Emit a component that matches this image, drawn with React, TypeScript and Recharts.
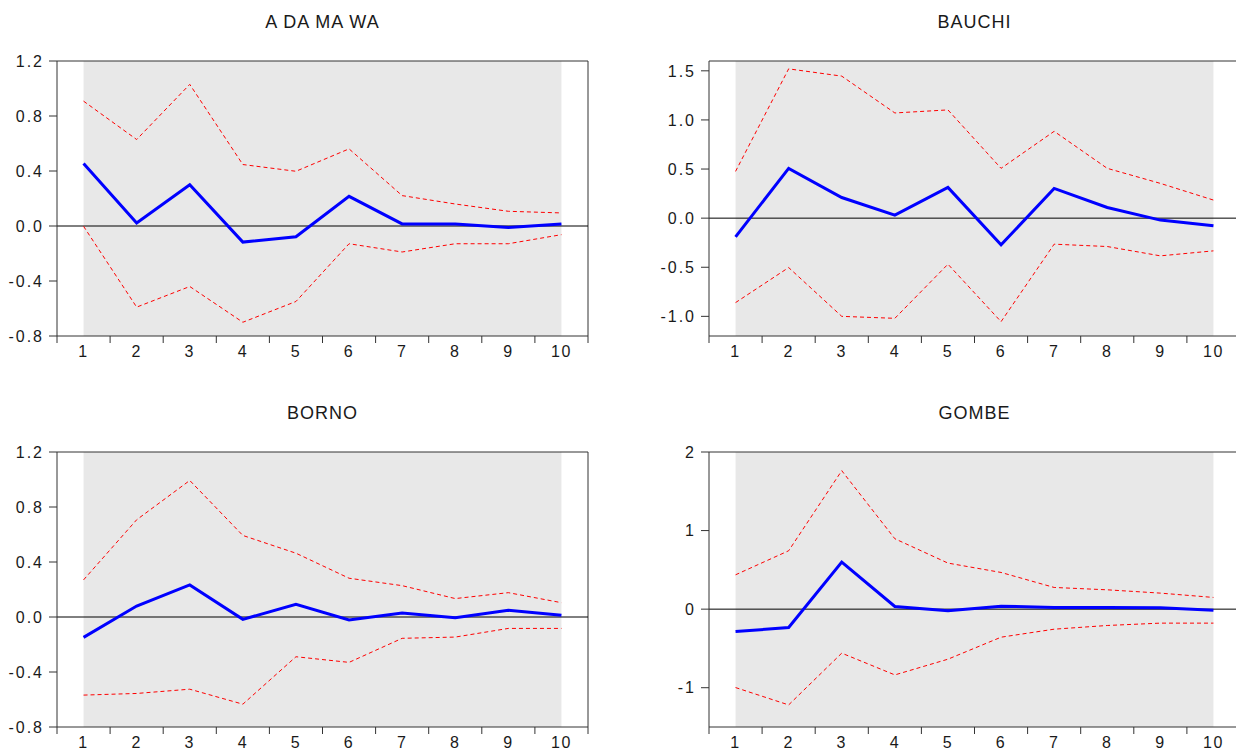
import React from "react";
import { LineChart, Line, XAxis, YAxis, ReferenceArea, ReferenceLine } from "recharts";

// impulse responses, horizons 1..10, with +/- 2 S.E. bands
const horizons = [1, 2, 3, 4, 5, 6, 7, 8, 9, 10];

const adamawaResponse = [0.454, 0.022, 0.3, -0.117, -0.078, 0.216, 0.015, 0.015, -0.01, 0.015];
const adamawaUpper = [0.908, 0.629, 1.03, 0.447, 0.398, 0.561, 0.221, 0.16, 0.107, 0.095];
const adamawaLower = [-0.002, -0.59, -0.44, -0.7, -0.549, -0.129, -0.189, -0.129, -0.129, -0.063];
const adamawaTicks = [-0.8, -0.4, 0, 0.4, 0.8, 1.2];

const bauchiResponse = [-0.19, 0.507, 0.21, 0.031, 0.313, -0.272, 0.303, 0.109, -0.02, -0.078];
const bauchiUpper = [0.476, 1.52, 1.446, 1.071, 1.102, 0.507, 0.884, 0.507, 0.354, 0.184];
const bauchiLower = [-0.86, -0.503, -1.0, -1.02, -0.469, -1.054, -0.265, -0.289, -0.384, -0.333];
const bauchiTicks = [-1.0, -0.5, 0, 0.5, 1.0, 1.5];

const bornoResponse = [-0.148, 0.08, 0.233, -0.017, 0.092, -0.022, 0.029, -0.005, 0.049, 0.012];
const bornoUpper = [0.27, 0.707, 0.993, 0.593, 0.464, 0.282, 0.228, 0.134, 0.177, 0.104];
const bornoLower = [-0.568, -0.556, -0.525, -0.634, -0.289, -0.33, -0.155, -0.146, -0.083, -0.083];
const bornoTicks = [-0.8, -0.4, 0, 0.4, 0.8, 1.2];

const gombeResponse = [-0.285, -0.234, 0.599, 0.034, -0.021, 0.038, 0.021, 0.021, 0.017, -0.013];
const gombeUpper = [0.437, 0.743, 1.762, 0.896, 0.586, 0.467, 0.276, 0.246, 0.204, 0.149];
const gombeLower = [-0.998, -1.219, -0.56, -0.837, -0.637, -0.357, -0.255, -0.208, -0.178, -0.178];
const gombeTicks = [-1, 0, 1, 2];

const CHART_W = 600;
const CHART_H = 370;
const PLOT_LEFT = 57;
const PLOT_W = 531;
const Y_AXIS_W = 50;
const AXIS_COLOR = "#333";
const TEXT_COLOR = "#1a1a1a";

const first = horizons[0];
const last = horizons[horizons.length - 1];
const xDomain = [first - 0.5, last + 0.5];
// tick marks sit on the band edges, labels in the band centres
const xTicks = [...horizons.map((h) => h - 0.5), ...horizons, last + 0.5].sort((a, b) => a - b);

function BandTick({ x, y, payload }) {
  if (Number.isInteger(payload.value)) {
    return (
      <text x={x} y={y + 10} dy="0.71em" textAnchor="middle" fontSize={16} letterSpacing={1.5} fill={TEXT_COLOR}>
        {payload.value}
      </text>
    );
  }
  return <line x1={x} x2={x} y1={y} y2={y + 7} stroke={AXIS_COLOR} />;
}

function ImpulsePanel({ title, response, upper, lower, yDomain, yTicks, decimals, left, top }) {
  const data = horizons.map((h, i) => ({ h, response: response[i], upper: upper[i], lower: lower[i] }));
  return (
    <div style={{ position: "absolute", left, top, width: CHART_W, height: CHART_H }}>
      <div
        style={{
          position: "absolute",
          left: PLOT_LEFT,
          width: PLOT_W,
          top: 12,
          lineHeight: "21px",
          textAlign: "center",
          fontSize: 18,
          letterSpacing: 1,
          color: TEXT_COLOR,
        }}
      >
        {title}
      </div>
      <LineChart
        width={CHART_W}
        height={CHART_H}
        data={data}
        margin={{ top: 61, right: CHART_W - PLOT_LEFT - PLOT_W, bottom: 4, left: PLOT_LEFT - Y_AXIS_W }}
      >
        <XAxis
          type="number"
          dataKey="h"
          domain={xDomain}
          ticks={xTicks}
          tickLine={false}
          tickSize={0}
          tickMargin={0}
          height={30}
          tick={(props) => <BandTick {...props} />}
          stroke={AXIS_COLOR}
          interval={0}
          allowDataOverflow
        />
        <YAxis
          domain={yDomain}
          ticks={yTicks}
          width={Y_AXIS_W}
          tickSize={8}
          tickMargin={5}
          tick={{ fontSize: 16, letterSpacing: 2, fill: TEXT_COLOR }}
          stroke={AXIS_COLOR}
          interval={0}
          allowDataOverflow
          tickFormatter={(v) => v.toFixed(decimals)}
        />
        <ReferenceArea x1={first} x2={last} fill="#e8e8e8" fillOpacity={1} stroke="none" />
        <ReferenceLine y={yDomain[1]} stroke={AXIS_COLOR} strokeWidth={1} />
        <ReferenceLine x={xDomain[1]} stroke={AXIS_COLOR} strokeWidth={1} />
        <ReferenceLine y={0} stroke="#000" strokeWidth={1} />
        <Line dataKey="upper" stroke="#ff0000" strokeWidth={1} strokeDasharray="4 3" dot={false} activeDot={false} isAnimationActive={false} />
        <Line dataKey="lower" stroke="#ff0000" strokeWidth={1} strokeDasharray="4 3" dot={false} activeDot={false} isAnimationActive={false} />
        <Line dataKey="response" stroke="#0000ff" strokeWidth={3} dot={false} activeDot={false} isAnimationActive={false} />
      </LineChart>
    </div>
  );
}

export default function App() {
  return (
    <div
      style={{
        position: "fixed",
        left: 0,
        top: 0,
        width: 1236,
        height: 756,
        overflow: "hidden",
        background: "#fff",
        fontFamily: "'Liberation Sans', Arial, sans-serif",
      }}
    >
      <ImpulsePanel title="A DA MA WA" response={adamawaResponse} upper={adamawaUpper} lower={adamawaLower} yDomain={[-0.8, 1.2]} yTicks={adamawaTicks} decimals={1} left={0} top={0} />
      <ImpulsePanel title="BAUCHI" response={bauchiResponse} upper={bauchiUpper} lower={bauchiLower} yDomain={[-1.2, 1.6]} yTicks={bauchiTicks} decimals={1} left={652} top={0} />
      <ImpulsePanel title="BORNO" response={bornoResponse} upper={bornoUpper} lower={bornoLower} yDomain={[-0.8, 1.2]} yTicks={bornoTicks} decimals={1} left={0} top={391} />
      <ImpulsePanel title="GOMBE" response={gombeResponse} upper={gombeUpper} lower={gombeLower} yDomain={[-1.5, 2]} yTicks={gombeTicks} decimals={0} left={652} top={391} />
    </div>
  );
}
